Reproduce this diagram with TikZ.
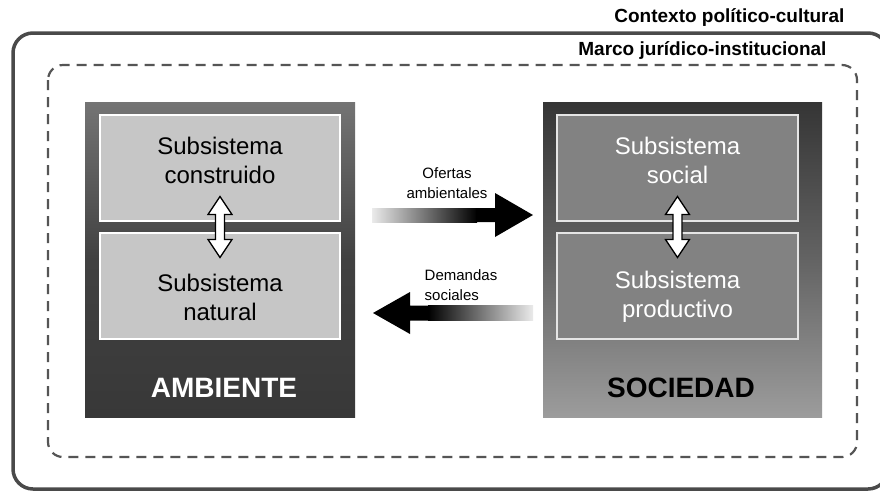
\documentclass[tikz,border=0pt]{standalone}
\usepackage{fontspec}
\setmainfont{Liberation Sans}
\usetikzlibrary{calc}
\definecolor{frame}{HTML}{4A4A4A}
\definecolor{dashc}{HTML}{555555}
\definecolor{ambtop}{HTML}{747474}
\definecolor{ambbot}{HTML}{383838}
\definecolor{soctop}{HTML}{353535}
\definecolor{socbot}{HTML}{9C9C9C}
\definecolor{ambin}{HTML}{C6C6C6}
\definecolor{socin}{HTML}{828282}
\tikzset{
  bigbox/.style={rectangle, inner sep=0pt, minimum height=315pt},
  ambinner/.style={rectangle, fill=ambin, draw=white, line width=1.2pt, minimum width=240pt, minimum height=106pt, inner sep=0pt},
  socinner/.style={rectangle, fill=socin, draw=white!90!black, line width=1.2pt, minimum width=241pt, minimum height=106pt, inner sep=0pt},
  subtxt/.style={align=center, font=\fontsize{24}{29}\selectfont},
  titletxt/.style={font=\fontsize{28}{32}\selectfont\bfseries},
  lbl/.style={font=\fontsize{15}{20}\selectfont},
  ctx/.style={font=\fontsize{19}{22}\selectfont\bfseries, anchor=east},
  dblarrow/.style={draw=black, fill=white, line width=1.3pt, line join=miter},
}
\begin{document}
\begin{tikzpicture}[x=1pt,y=-1pt]
\useasboundingbox (0,0) rectangle (880,491);
\clip (0,0) rectangle (880,491);
\fill[white] (0,0) rectangle (880,491);

% frames
\draw[frame, line width=3.5pt, rounded corners=20pt] (13,33) rectangle (888,489);
\draw[dashc, line width=2.2pt, dash pattern=on 10pt off 7pt, rounded corners=15pt] (48,65) rectangle (857,457);
\node[ctx] (ctxlbl) at (848,17) {Contexto político-cultural};
\node[ctx] (marlbl) at (830,50) {Marco jurídico-institucional};

% AMBIENTE
\node[bigbox, minimum width=270pt, top color=ambtop, bottom color=ambbot, middle color=ambbot!85!ambtop] (amb) at (220,259.5) {};
\node[ambinner] (constr) at (220,168) {};
\node[ambinner] (natur) at (220,286) {};
\node[subtxt] (constrtxt) at (220,160) {Subsistema\\construido};
\node[subtxt] (naturtxt) at (220,297) {Subsistema\\natural};
\node[titletxt, text=white] (ambtxt) at (224,388) {AMBIENTE};

% SOCIEDAD
\node[bigbox, minimum width=279pt, top color=soctop, bottom color=socbot, middle color=soctop!55!socbot] (soc) at (682.5,259.5) {};
\node[socinner] (social) at (677.5,168) {};
\node[socinner] (produc) at (677.5,286) {};
\node[subtxt, text=white] (socialtxt) at (677.5,160) {Subsistema\\social};
\node[subtxt, text=white] (productxt) at (677.5,297) {Subsistema\\productivo};
\node[titletxt, text=black] (soctxt) at (681,388) {SOCIEDAD};

% vertical double arrows
\coordinate (ca) at ($(constr.south)!0.5!(natur.north)$);
\coordinate (cs) at ($(social.south)!0.5!(produc.north)$);
\foreach \c in {ca,cs}{
\begin{scope}[shift={(\c)}]
\draw[dblarrow] (0,-30.5) -- (12,-12.5) -- (4.5,-12.5) -- (4.5,12.5) -- (12,12.5) -- (0,30.5) -- (-12,12.5) -- (-4.5,12.5) -- (-4.5,-12.5) -- (-12,-12.5) -- cycle;
\end{scope}
}

% horizontal arrows
\coordinate (of) at (372,215);
\begin{scope}[shift={(of)}]
\shade[left color=white!92!black, right color=black] (0,-7) rectangle (105,7);
\fill[black] (104,-7) -- (123,-7) -- (123,-22) -- (161,0) -- (123,22) -- (123,7) -- (104,7) -- cycle;
\end{scope}
\coordinate (de) at (373,313);
\begin{scope}[shift={(de)}]
\shade[left color=black, right color=white!92!black] (55,-7.5) rectangle (160,7.5);
\fill[black] (56,-7.5) -- (37,-7.5) -- (37,-21) -- (0,0) -- (37,21) -- (37,7.5) -- (56,7.5) -- cycle;
\end{scope}
\node[lbl, align=center] (oflbl) at (447,183) {Ofertas\\ambientales};
\node[lbl, align=left] (delbl) at (461,285) {Demandas\\sociales};
\end{tikzpicture}
\end{document}
